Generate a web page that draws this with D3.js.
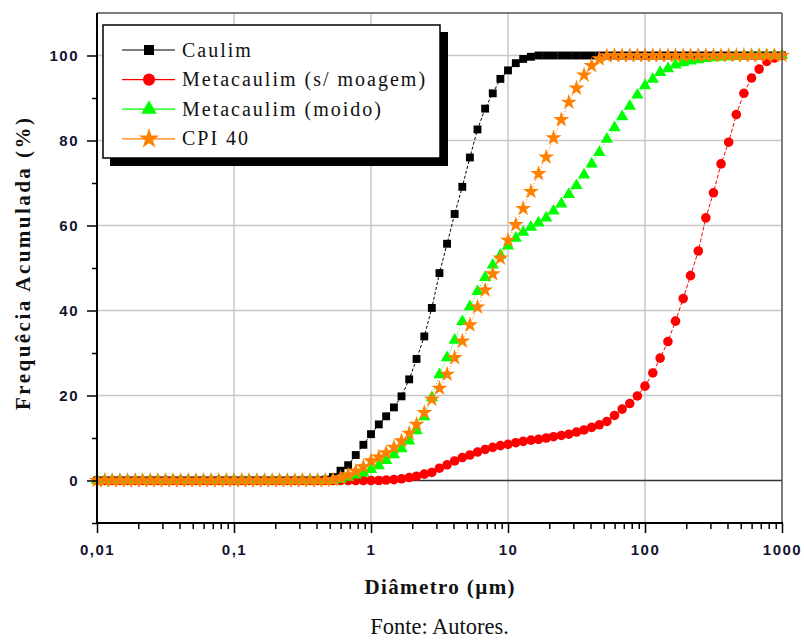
<!DOCTYPE html>
<html lang="pt-br">
<head>
  <meta charset="utf-8">
  <title>Granulometria</title>
  <script src="https://d3js.org/d3.v7.min.js"></script>
  <style>
    body { margin: 0; background: #fff; }
    .eixo text { font-family: "Liberation Sans", Arial, sans-serif; font-weight: bold; font-size: 15px; fill: #14142e; letter-spacing: 1.5px; }
    .eixo path { display: none; }
    .eixo line { stroke: #000; stroke-width: 1.5px; }
    .titulo { font-family: "Liberation Serif", "Times New Roman", serif; font-weight: bold; font-size: 21px; fill: #111; }
    .legenda text { font-family: "Liberation Serif", "Times New Roman", serif; font-size: 20px; fill: #111; letter-spacing: 2px; }
  </style>
</head>
<body>
<div id="chart"></div>
<script>
"use strict"

// diâmetros (µm)
const diametro = [
  0.01, 0.0114, 0.0129, 0.0147, 0.0167, 0.019, 0.0215, 0.0245, 0.0278, 0.0316, 0.0359, 0.0408, 0.0464, 0.0527, 0.0599, 0.0681, 0.0774, 0.088,
  0.1, 0.114, 0.129, 0.147, 0.167, 0.19, 0.215, 0.245, 0.278, 0.316, 0.359, 0.408, 0.464, 0.527, 0.599, 0.681, 0.774, 0.88,
  1, 1.14, 1.29, 1.47, 1.67, 1.9, 2.15, 2.45, 2.78, 3.16, 3.59, 4.08, 4.64, 5.27, 5.99, 6.81, 7.74, 8.8,
  10, 11.4, 12.9, 14.7, 16.7, 19, 21.5, 24.5, 27.8, 31.6, 35.9, 40.8, 46.4, 52.7, 59.9, 68.1, 77.4, 88,
  100, 114, 129, 147, 167, 190, 215, 245, 278, 316, 359, 408, 464, 527, 599, 681, 774, 880,
  1000
];

const caulim = [
  0, 0, 0, 0, 0, 0, 0, 0, 0, 0, 0, 0, 0, 0, 0, 0, 0, 0,
  0, 0, 0, 0, 0, 0, 0, 0, 0, 0, 0, 0, 0.2, 0.8, 2.3, 3.6, 6.0, 8.4,
  10.9, 13.2, 15.1, 17.2, 19.8, 23.8, 28.6, 33.9, 40.6, 48.8, 55.7, 62.7, 69.1, 76.0, 82.6, 87.5, 91.1, 94.5,
  96.5, 98.2, 99.2, 99.7, 100, 100, 100, 100, 100, 100, 100, 100, 100, 100, 100, 100, 100, 100,
  100, 100, 100, 100, 100, 100, 100, 100, 100, 100, 100, 100, 100, 100, 100, 100, 100, 100,
  100
];

const metaSemMoagem = [
  0, 0, 0, 0, 0, 0, 0, 0, 0, 0, 0, 0, 0, 0, 0, 0, 0, 0,
  0, 0, 0, 0, 0, 0, 0, 0, 0, 0, 0, 0, 0, 0, 0, 0, 0, 0,
  0, 0, 0.1, 0.2, 0.4, 0.7, 1.0, 1.5, 1.9, 2.9, 3.7, 4.6, 5.4, 6.0, 6.7, 7.3, 7.8, 8.2,
  8.5, 8.9, 9.2, 9.5, 9.7, 10.0, 10.3, 10.6, 10.9, 11.4, 11.9, 12.5, 13.1, 13.9, 15.3, 16.8, 18.1, 19.9,
  22.2, 25.3, 28.8, 32.7, 37.5, 42.8, 48.2, 54.0, 61.8, 67.7, 74.5, 79.6, 86.1, 91.1, 94.7, 96.8, 98.6, 99.4,
  100
];

const metaMoido = [
  0, 0, 0, 0, 0, 0, 0, 0, 0, 0, 0, 0, 0, 0, 0, 0, 0, 0,
  0, 0, 0, 0, 0, 0, 0, 0, 0, 0, 0, 0, 0, 0, 0.3, 0.8, 1.3, 1.8,
  2.6, 3.5, 4.7, 6.1, 7.5, 9.3, 11.7, 15.0, 19.5, 24.9, 28.9, 33.0, 37.4, 40.9, 44.5, 47.8, 50.7, 53.0,
  55.2, 57.0, 58.4, 59.6, 60.6, 61.8, 63.4, 65.1, 67.3, 69.4, 71.9, 74.5, 77.2, 80.3, 83.0, 85.6, 88.1, 90.7,
  92.9, 94.4, 96.0, 96.9, 97.8, 98.3, 98.7, 99.0, 99.3, 99.5, 99.6, 99.7, 99.8, 99.9, 100, 100, 100, 100,
  100
];

const cpi40 = [
  0, 0, 0, 0, 0, 0, 0, 0, 0, 0, 0, 0, 0, 0, 0, 0, 0, 0,
  0, 0, 0, 0, 0, 0, 0, 0, 0, 0, 0, 0, 0, 0.2, 0.6, 1.3, 2.2, 3.2,
  4.6, 5.5, 6.5, 7.8, 9.3, 11.1, 13.2, 16.0, 19.1, 21.7, 25.0, 28.9, 32.8, 36.6, 40.8, 44.8, 48.6, 52.3,
  56.5, 60.2, 64.0, 68.0, 72.2, 76.1, 80.6, 84.9, 89.0, 92.3, 95.4, 97.6, 99.2, 99.9, 100, 100, 100, 100,
  100, 100, 100, 100, 100, 100, 100, 100, 100, 100, 100, 100, 100, 100, 100, 100, 100, 100,
  100
];

const nomes = ["Caulim", "Metacaulim (s/ moagem)", "Metacaulim (moido)", "CPI 40"];
const cores = ["#000000", "#ff0000", "#00ff00", "#ff8000"];
const xTicks = [0.01, 0.1, 1, 10, 100, 1000];
const xTickLabels = ["0,01", "0,1", "1", "10", "100", "1000"];
const yTicks = [0, 20, 40, 60, 80, 100];
const yMinor = [-10, 10, 30, 50, 70, 90];

const simbolos = [
  {tipo: d3.symbolSquare, area: 62, tracejado: "3,2"},
  {tipo: d3.symbolCircle, area: 72, tracejado: "4,2"},
  {tipo: d3.symbolTriangle, area: 66, tracejado: "1,2"},
  {tipo: d3.symbolStar, area: 80, tracejado: "1,2"}
];

const series = [caulim, metaSemMoagem, metaMoido, cpi40].map((v, k) => ({
  nome: nomes[k],
  cor: cores[k],
  simb: simbolos[k],
  pontos: diametro.map((d, i) => ({d: d, f: v[i]}))
}));

const largura = 804, altura = 642;
const esq = 97, dir = 782, topo = 13, base = 523;

const svg = d3.select("#chart").append("svg")
  .attr("width", largura)
  .attr("height", altura);

const x = d3.scaleLog().domain([0.01, 1000]).range([esq, dir]);
const y = d3.scaleLinear().domain([-10, 110]).range([base, topo]);

// grade
svg.append("g").selectAll("line")
  .data(xTicks.slice(1, -1))
  .join("line")
  .attr("x1", d => x(d)).attr("x2", d => x(d))
  .attr("y1", topo).attr("y2", base)
  .attr("stroke", "#c8c8c8").attr("stroke-width", 1.5);

svg.append("g").selectAll("line")
  .data(yTicks.slice(1))
  .join("line")
  .attr("x1", esq).attr("x2", dir)
  .attr("y1", d => y(d)).attr("y2", d => y(d))
  .attr("stroke", "#c8c8c8").attr("stroke-width", 1.5);

svg.append("line")
  .attr("x1", esq).attr("x2", dir)
  .attr("y1", y(0)).attr("y2", y(0))
  .attr("stroke", "#333").attr("stroke-width", 1.5);

// curvas
const linha = d3.line().x(p => x(p.d)).y(p => y(p.f));

series.forEach(s => {
  const g = svg.append("g");
  g.append("path")
    .datum(s.pontos)
    .attr("d", linha)
    .attr("fill", "none")
    .attr("stroke", s.cor)
    .attr("stroke-width", 1)
    .attr("stroke-dasharray", s.simb.tracejado);
  g.selectAll("path.m")
    .data(s.pontos)
    .join("path")
    .attr("class", "m")
    .attr("d", d3.symbol(s.simb.tipo, s.simb.area))
    .attr("transform", p => "translate(" + x(p.d) + "," + y(p.f) + ")")
    .attr("fill", s.cor);
});

// moldura
svg.append("line").attr("x1", esq).attr("x2", dir).attr("y1", topo).attr("y2", topo)
  .attr("stroke", "#555").attr("stroke-width", 1.5);
svg.append("line").attr("x1", dir).attr("x2", dir).attr("y1", topo).attr("y2", base)
  .attr("stroke", "#555").attr("stroke-width", 1.5);

// eixos
const minoresX = [];
xTicks.slice(0, -1).forEach(t => { for (let k = 2; k <= 9; k++) minoresX.push(t * k); });

svg.append("g")
  .attr("class", "eixo")
  .attr("transform", "translate(0," + base + ")")
  .call(d3.axisBottom(x).tickValues(minoresX).tickSize(6).tickFormat(""));

svg.append("g")
  .attr("class", "eixo")
  .attr("transform", "translate(0," + base + ")")
  .call(d3.axisBottom(x).tickValues(xTicks).tickSize(10).tickPadding(11)
    .tickFormat((d, i) => xTickLabels[i]));

svg.append("g")
  .attr("class", "eixo")
  .attr("transform", "translate(" + esq + ",0)")
  .call(d3.axisLeft(y).tickValues(yMinor).tickSize(5).tickFormat(""));

svg.append("g")
  .attr("class", "eixo")
  .attr("transform", "translate(" + esq + ",0)")
  .call(d3.axisLeft(y).tickValues(yTicks).tickSize(10).tickPadding(8));

svg.append("line").attr("x1", esq).attr("x2", esq).attr("y1", topo).attr("y2", base + 1)
  .attr("stroke", "#000").attr("stroke-width", 2);
svg.append("line").attr("x1", esq - 1).attr("x2", dir + 1).attr("y1", base).attr("y2", base)
  .attr("stroke", "#000").attr("stroke-width", 2);

// títulos
svg.append("text")
  .attr("class", "titulo")
  .attr("x", (esq + dir) / 2)
  .attr("y", 594)
  .attr("text-anchor", "middle")
  .attr("textLength", 150)
  .attr("lengthAdjust", "spacing")
  .text("Diâmetro (µm)");

svg.append("text")
  .attr("class", "titulo")
  .attr("transform", "translate(30,264) rotate(-90)")
  .attr("text-anchor", "middle")
  .attr("textLength", 292)
  .attr("lengthAdjust", "spacing")
  .text("Frequêcia Acumulada (%)");

svg.append("text")
  .attr("x", (esq + dir) / 2)
  .attr("y", 634)
  .attr("text-anchor", "middle")
  .style("font-family", "'Liberation Serif', 'Times New Roman', serif")
  .style("font-size", "22.5px")
  .style("fill", "#111")
  .text("Fonte: Autores.");

// legenda
const leg = svg.append("g").attr("class", "legenda");
leg.append("rect").attr("x", 110).attr("y", 32).attr("width", 338).attr("height", 134).attr("fill", "#000");
leg.append("rect").attr("x", 103).attr("y", 25).attr("width", 337).attr("height", 133)
  .attr("fill", "#fff").attr("stroke", "#000").attr("stroke-width", 1.5);

const itens = leg.selectAll("g.item")
  .data(series)
  .join("g")
  .attr("class", "item")
  .attr("transform", (s, i) => "translate(0," + (50 + i * 29.6) + ")");

itens.append("line")
  .attr("x1", 122).attr("x2", 175)
  .attr("stroke", s => s.cor).attr("stroke-width", 1.2);
itens.append("path")
  .attr("d", s => d3.symbol(s.simb.tipo, s.simb.area * 1.6)())
  .attr("transform", "translate(149,0)")
  .attr("fill", s => s.cor);
itens.append("text")
  .attr("x", 182)
  .attr("y", 6.5)
  .text(s => s.nome);
</script>
</body>
</html>
